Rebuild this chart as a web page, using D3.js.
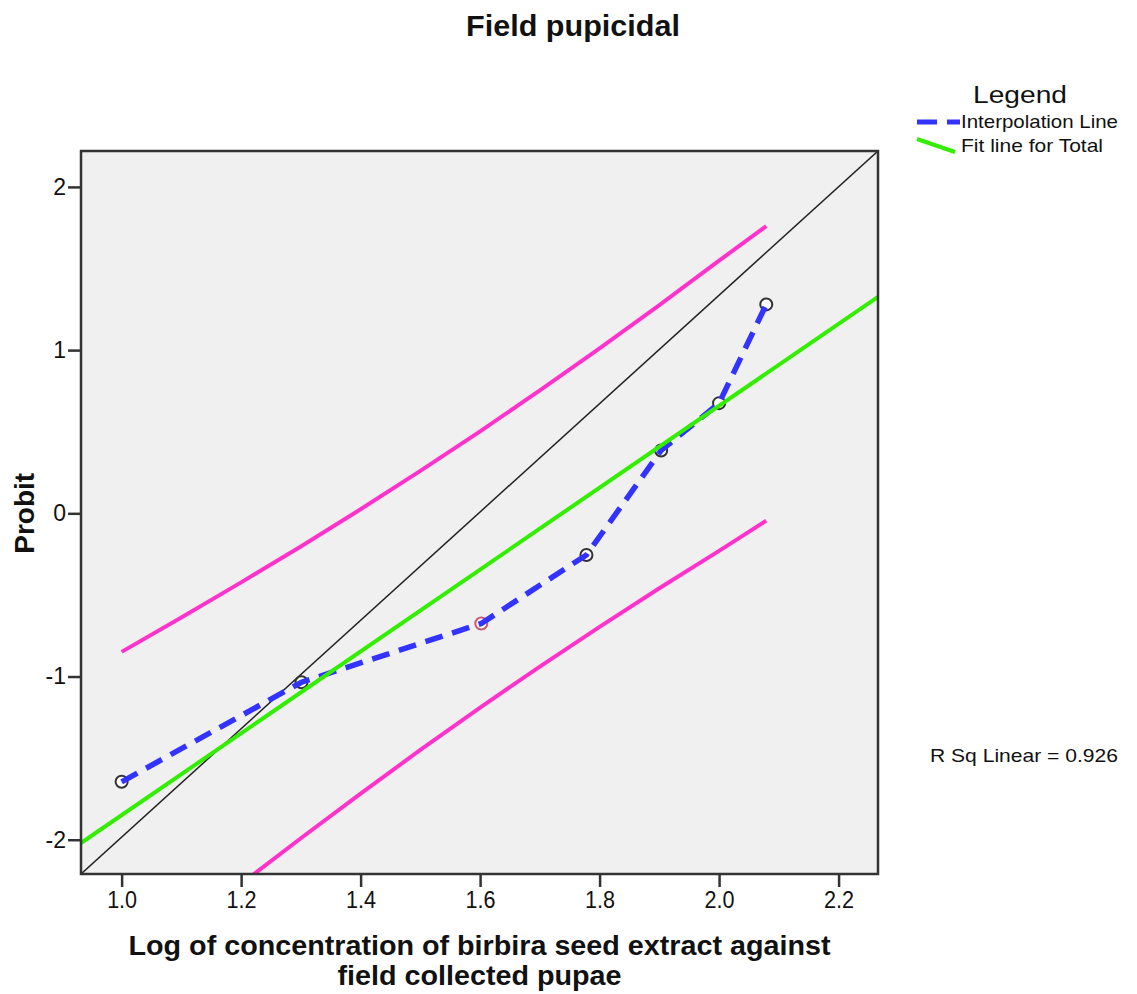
<!DOCTYPE html>
<html>
<head>
<meta charset="utf-8">
<script src="https://cdn.jsdelivr.net/npm/d3@7"></script>
<style>
  body { margin: 0; background: #fff; }
  text { font-family: "Liberation Sans", Arial, sans-serif; fill: #111; }
</style>
</head>
<body>
<svg id="chart" width="1137" height="994"></svg>
<script>
// observed points (log concentration vs probit)
const logConc = [1.0, 1.301, 1.602, 1.778, 1.903, 2.0, 2.079];
const probit = [-1.645, -1.035, -0.675, -0.255, 0.385, 0.675, 1.28];

// fitted line for Total, read at the plot edges
const fitX = [0.932, 2.266];
const fitY = [-2.02, 1.326];

// confidence band
const bandX = [1.0, 1.1, 1.2, 1.3, 1.4, 1.5, 1.6, 1.7, 1.8, 1.9, 2.0, 2.079];
const bandUpper = [-0.849, -0.639, -0.423, -0.203, 0.025, 0.26, 0.502, 0.753, 1.01, 1.275, 1.548, 1.76];
const bandLower = [-2.849, -2.557, -2.271, -1.991, -1.717, -1.45, -1.19, -0.939, -0.696, -0.459, -0.23, -0.045];

const xTicks = [1.0, 1.2, 1.4, 1.6, 1.8, 2.0, 2.2];
const yTicks = [-2, -1, 0, 1, 2];

const svg = d3.select("#chart");
const margin = { top: 151, right: 259, bottom: 120, left: 81 };
const width = 1137 - margin.left - margin.right;
const height = 994 - margin.top - margin.bottom;

const x = d3.scaleLinear().domain([0.932, 2.266]).range([margin.left, margin.left + width]);
const y = d3.scaleLinear().domain([-2.21, 2.22]).range([margin.top + height, margin.top]);

// title
svg.append("text")
  .attr("x", 573).attr("y", 36)
  .attr("text-anchor", "middle")
  .attr("font-size", 30).attr("font-weight", "bold")
  .attr("textLength", 214).attr("lengthAdjust", "spacingAndGlyphs")
  .text("Field pupicidal");

// plot background
svg.append("rect")
  .attr("x", margin.left).attr("y", margin.top)
  .attr("width", width).attr("height", height)
  .attr("fill", "#f0f0f0");

svg.append("defs").append("clipPath").attr("id", "plotClip")
  .append("rect")
  .attr("x", margin.left).attr("y", margin.top)
  .attr("width", width).attr("height", height);

const plot = svg.append("g").attr("clip-path", "url(#plotClip)");
const line = d3.line().x(d => x(d[0])).y(d => y(d[1]));

// confidence bands
plot.append("path")
  .datum(bandX.map((v, i) => [v, bandUpper[i]]))
  .attr("d", line).attr("fill", "none")
  .attr("stroke", "#ff33cc").attr("stroke-width", 4);
plot.append("path")
  .datum(bandX.map((v, i) => [v, bandLower[i]]))
  .attr("d", line).attr("fill", "none")
  .attr("stroke", "#ff33cc").attr("stroke-width", 4);

// reference diagonal, corner to corner
plot.append("path")
  .datum([[x.domain()[0], y.domain()[0]], [x.domain()[1], y.domain()[1]]])
  .attr("d", line).attr("fill", "none")
  .attr("stroke", "#222").attr("stroke-width", 1.5);

// markers
plot.selectAll("circle")
  .data(logConc)
  .enter()
  .append("circle")
  .attr("cx", d => x(d))
  .attr("cy", (d, i) => y(probit[i]))
  .attr("r", 6)
  .attr("fill", "#fff")
  .attr("stroke", (d, i) => i === 2 ? "#c85a70" : "#333")
  .attr("stroke-width", 2);

// interpolation line
plot.append("path")
  .datum(logConc.map((v, i) => [v, probit[i]]))
  .attr("d", line).attr("fill", "none")
  .attr("stroke", "#3333ff").attr("stroke-width", 5.5)
  .attr("stroke-dasharray", "18,10");

// fit line
plot.append("path")
  .datum(fitX.map((v, i) => [v, fitY[i]]))
  .attr("d", line).attr("fill", "none")
  .attr("stroke", "#33ee00").attr("stroke-width", 4);

// frame
svg.append("rect")
  .attr("x", margin.left).attr("y", margin.top)
  .attr("width", width).attr("height", height)
  .attr("fill", "none").attr("stroke", "#333").attr("stroke-width", 2.5);

// axes
const xAxis = svg.append("g")
  .attr("transform", `translate(0,${margin.top + height})`)
  .call(d3.axisBottom(x).tickValues(xTicks).tickFormat(d3.format(".1f")).tickSize(13).tickPadding(5));
const yAxis = svg.append("g")
  .attr("transform", `translate(${margin.left},0)`)
  .call(d3.axisLeft(y).tickValues(yTicks).tickFormat(d => String(d)).tickSize(13).tickPadding(2));

[xAxis, yAxis].forEach(a => {
  a.attr("font-size", 23).attr("font-family", "'Liberation Sans', Arial, sans-serif");
  a.select(".domain").remove();
  a.selectAll(".tick line").attr("stroke", "#333").attr("stroke-width", 2.5);
  a.selectAll(".tick text").attr("fill", "#111");
});
xAxis.selectAll(".tick text").attr("textLength", 30).attr("lengthAdjust", "spacingAndGlyphs");

// axis titles
svg.append("text")
  .attr("transform", `translate(34,${y(0)}) rotate(-90)`)
  .attr("text-anchor", "middle")
  .attr("font-size", 28).attr("font-weight", "bold")
  .text("Probit");

const xTitle = ["Log of concentration of birbira seed extract against", "field collected pupae"];
const xTitleLen = [702, 284];
svg.selectAll(".xtitle")
  .data(xTitle)
  .enter()
  .append("text")
  .attr("class", "xtitle")
  .attr("x", margin.left + width / 2)
  .attr("y", (d, i) => 955 + i * 30)
  .attr("text-anchor", "middle")
  .attr("font-size", 27).attr("font-weight", "bold")
  .attr("textLength", (d, i) => xTitleLen[i]).attr("lengthAdjust", "spacingAndGlyphs")
  .text(d => d);

// legend
const legend = svg.append("g");
legend.append("text")
  .attr("x", 1020).attr("y", 103)
  .attr("text-anchor", "middle")
  .attr("font-size", 23)
  .attr("textLength", 94).attr("lengthAdjust", "spacingAndGlyphs")
  .text("Legend");
legend.append("line")
  .attr("x1", 917).attr("y1", 122).attr("x2", 960).attr("y2", 122)
  .attr("stroke", "#3333ff").attr("stroke-width", 5)
  .attr("stroke-dasharray", "20,10");
legend.append("line")
  .attr("x1", 917).attr("y1", 139).attr("x2", 955).attr("y2", 152)
  .attr("stroke", "#33ee00").attr("stroke-width", 4);
const legendLabels = ["Interpolation Line", "Fit line for Total"];
const legendLen = [157, 142];
legend.selectAll(".lg")
  .data(legendLabels)
  .enter()
  .append("text")
  .attr("class", "lg")
  .attr("x", 961)
  .attr("y", (d, i) => 128 + i * 24)
  .attr("font-size", 19)
  .attr("textLength", (d, i) => legendLen[i]).attr("lengthAdjust", "spacingAndGlyphs")
  .text(d => d);

// R squared annotation
svg.append("text")
  .attr("x", 930).attr("y", 762)
  .attr("font-size", 19)
  .attr("textLength", 188).attr("lengthAdjust", "spacingAndGlyphs")
  .text("R Sq Linear = 0.926");
</script>
</body>
</html>
